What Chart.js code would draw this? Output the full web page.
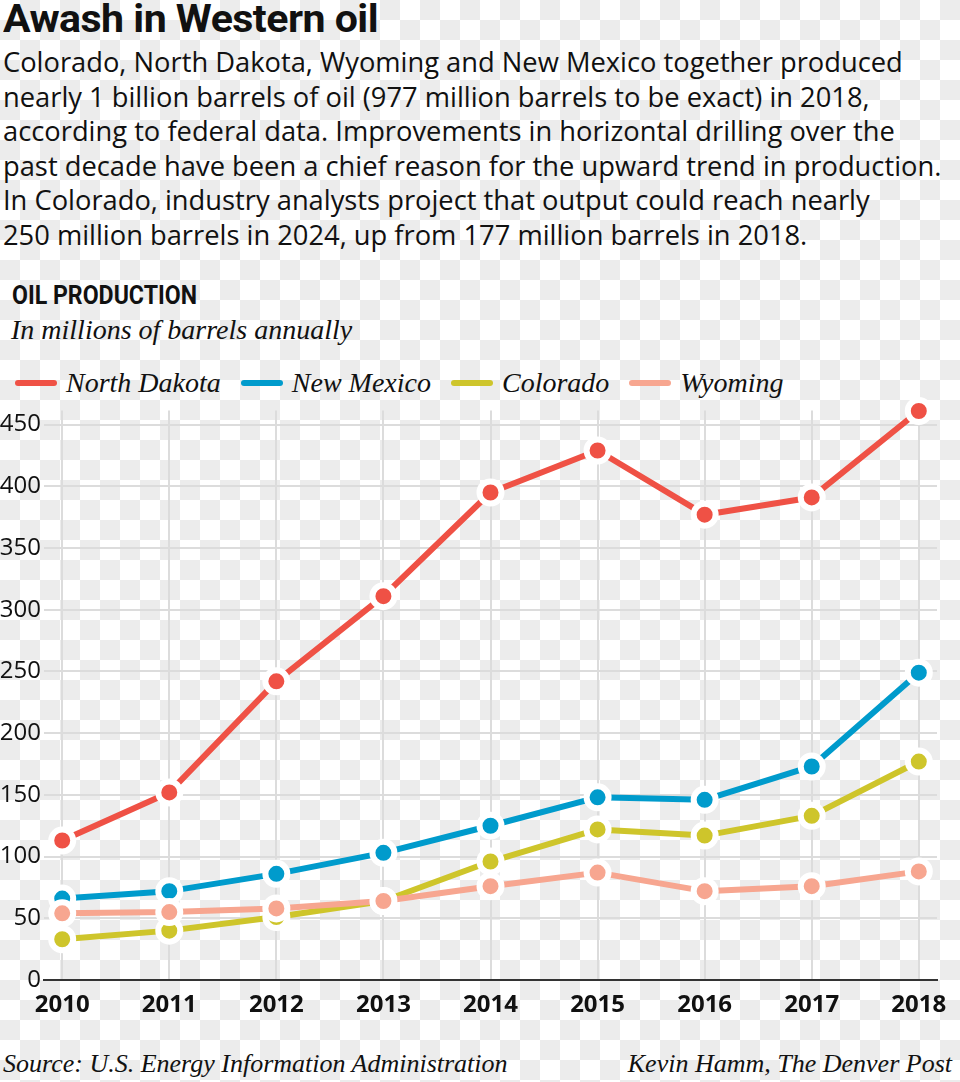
<!DOCTYPE html>
<html>
<head>
<meta charset="utf-8">
<script src="https://cdn.jsdelivr.net/npm/chart.js@4.4.1/dist/chart.umd.min.js"></script>
<style>
  html, body { margin: 0; padding: 0; }
  body {
    width: 960px; height: 1082px; position: relative; overflow: hidden;
    background: conic-gradient(#ececec 25%, #fff 0 50%, #ececec 0 75%, #fff 0) 0 0 / 40px 40px;
    color: #111;
  }
  .title {
    position: absolute; left: 3px; top: -4px;
    font: 700 39px Roboto, sans-serif; letter-spacing: -0.5px;
    transform-origin: 0 0; white-space: nowrap;
  }
  .dek {
    position: absolute; left: 3px; top: 45px;
    font: 400 27.3px "Open Sans", sans-serif; line-height: 34.6px;
    white-space: nowrap;
  }
  .kicker {
    position: absolute; left: 12px; top: 281px;
    font: 700 25px Roboto, sans-serif; transform-origin: 0 0; white-space: nowrap;
  }
  .unit {
    position: absolute; left: 11px; top: 314px;
    font: italic 400 28px "Liberation Serif", serif; white-space: nowrap;
  }
  #legend {
    position: absolute; left: 15px; top: 367px; display: flex; align-items: center;
    font: italic 400 28px "Liberation Serif", serif; white-space: nowrap;
  }
  #legend .item { display: flex; align-items: center; margin-right: 20px; }
  #legend .swatch { width: 42px; height: 6px; border-radius: 3px; margin-right: 9px; }
  .wrap { position: absolute; left: 0; top: 393px; width: 960px; height: 648px; }
  .src {
    position: absolute; left: 3px; top: 1049px;
    font: italic 400 26px "Liberation Serif", serif; white-space: nowrap;
  }
  .credit {
    position: absolute; right: 8px; top: 1049px;
    font: italic 400 26px "Liberation Serif", serif; white-space: nowrap;
  }
</style>
</head>
<body>
<div class="title" data-w="375">Awash in Western oil</div>
<div class="dek">Colorado, North Dakota, Wyoming and New Mexico together produced<br>nearly 1 billion barrels of oil (977 million barrels to be exact) in 2018,<br>according to federal data. Improvements in horizontal drilling over the<br>past decade have been a chief reason for the upward trend in production.<br>In Colorado, industry analysts project that output could reach nearly<br>250 million barrels in 2024, up from 177 million barrels in 2018.</div>
<div class="kicker" data-w="185">OIL PRODUCTION</div>
<div class="unit">In millions of barrels annually</div>
<div id="legend"></div>
<div class="wrap"><canvas id="oil"></canvas></div>
<div class="src">Source: U.S. Energy Information Administration</div>
<div class="credit">Kevin Hamm, The Denver Post</div>

<script>
const years = [2010, 2011, 2012, 2013, 2014, 2015, 2016, 2017, 2018];
const yTicks = [0, 50, 100, 150, 200, 250, 300, 350, 400, 450];

const northDakota = [113, 152, 242, 311, 395, 429, 377, 391, 461];
const newMexico   = [66, 72, 86, 103, 125, 148, 146, 173, 249];
const colorado    = [33, 40, 51, 64, 96, 122, 117, 133, 177];
const wyoming     = [54, 55, 58, 64, 76, 87, 72, 76, 88];

const seriesNames  = ['North Dakota', 'New Mexico', 'Colorado', 'Wyoming'];
const seriesColors = ['#ef5145', '#009bcc', '#cec52b', '#f7a690'];
const seriesData   = [northDakota, newMexico, colorado, wyoming];
const drawOrder    = [0, 2, 3, 1]; // wyoming sits above NM and Colorado

// squeeze condensed headings to their width
document.querySelectorAll('[data-w]').forEach(el => {
    const w = el.getBoundingClientRect().width;
    el.style.transform = 'scaleX(' + (el.dataset.w / w) + ')';
});

// legend
const legend = document.getElementById('legend');
seriesNames.forEach((name, i) => {
    const item = document.createElement('div');
    item.className = 'item';
    item.innerHTML = '<span class="swatch" style="background:' + seriesColors[i] + '"></span>' + name;
    legend.appendChild(item);
});

const datasets = seriesNames.map((name, i) => ({
    label: name,
    data: seriesData[i].map((v, j) => ({ x: years[j], y: v })),
    borderColor: seriesColors[i],
    backgroundColor: seriesColors[i],
    borderWidth: 6,
    borderJoinStyle: 'round',
    tension: 0,
    pointRadius: 11,
    pointBorderWidth: 6,
    pointBorderColor: '#ffffff',
    pointBackgroundColor: seriesColors[i],
    pointHoverRadius: 11,
    clip: false,
    order: drawOrder[i]
}));

new Chart(document.getElementById('oil'), {
    type: 'line',
    data: { datasets: datasets },
    options: {
        responsive: true,
        maintainAspectRatio: false,
        animation: false,
        layout: { padding: { top: 17, right: 23, left: 0, bottom: 0 } },
        plugins: { legend: { display: false }, tooltip: { enabled: false } },
        scales: {
            x: {
                type: 'linear',
                min: 2009.83,
                max: 2018.17,
                afterBuildTicks: scale => { scale.ticks = years.map(v => ({ value: v })); },
                afterFit: scale => { scale.height = 61; },
                grid: { color: '#dcdcdc', lineWidth: 2, drawTicks: false },
                border: { display: true, color: '#333', width: 2 },
                ticks: {
                    padding: 11,
                    color: '#111',
                    font: { family: 'Open Sans', size: 24, weight: 'bold' },
                    callback: v => String(v)
                }
            },
            y: {
                min: 0,
                max: 461.5,
                afterBuildTicks: scale => { scale.ticks = yTicks.map(v => ({ value: v })); },
                afterFit: scale => { scale.width = 44; },
                grid: {
                    color: ctx => ctx.tick && ctx.tick.value === 0 ? '#333' : '#dcdcdc',
                    lineWidth: 2,
                    drawTicks: false
                },
                border: { display: false },
                ticks: {
                    padding: 3,
                    color: '#111',
                    font: { family: 'Open Sans', size: 24 }
                }
            }
        }
    }
});
</script>
</body>
</html>
